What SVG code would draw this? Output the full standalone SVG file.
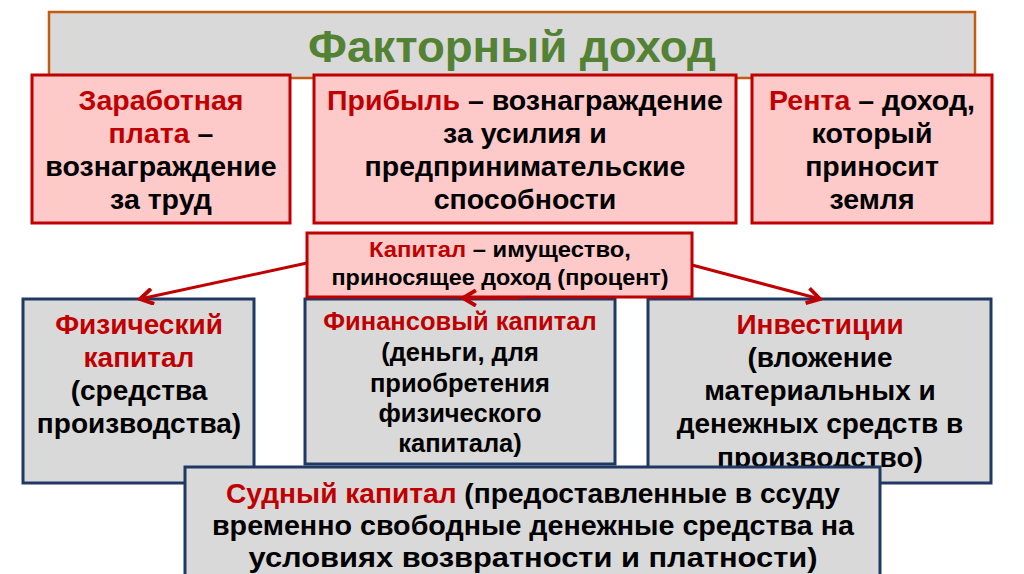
<svg xmlns="http://www.w3.org/2000/svg" width="1024" height="574" viewBox="0 0 1024 574">
<defs>
<style>
text{font-family:"Liberation Sans",Arial,sans-serif;font-weight:bold;text-anchor:middle;fill:#000}
.r{fill:#c00000}
.pink{fill:#fdc9c9;stroke:#c00000;stroke-width:3}
.gray{fill:#d9d9d9;stroke:#1f3864;stroke-width:3}
.t27{font-size:28.5px}
.t25{font-size:28px}
.t21{font-size:25.5px}
.con{stroke:#c00000;stroke-width:3;fill:none}
</style>
<marker id="ah" markerUnits="userSpaceOnUse" markerWidth="18" markerHeight="18" viewBox="0 0 14 14" refX="12" refY="7" orient="auto">
<path d="M2,1 L12,7 L2,13" fill="none" stroke="#c00000" stroke-width="3"/>
</marker>
</defs>
<rect width="1024" height="574" fill="#ffffff"/>
<g id="title">
<rect x="49" y="12" width="926" height="66" fill="#d9d9d9" stroke="#c55a11" stroke-width="2.5"/>
<text x="512" y="62" font-size="45" style="fill:#548235" textLength="408" lengthAdjust="spacingAndGlyphs">Факторный доход</text>
</g>
<g id="wage">
<rect class="pink" x="32" y="75" width="258" height="148"/>
<text class="t27" x="161" y="110"><tspan class="r">Заработная</tspan></text>
<text class="t27" x="161" y="143"><tspan class="r">плата</tspan> –</text>
<text class="t27" x="161" y="176">вознаграждение</text>
<text class="t27" x="161" y="209">за труд</text>
</g>
<g id="profit">
<rect class="pink" x="314" y="75" width="422" height="148"/>
<text class="t27" x="525" y="110"><tspan class="r">Прибыль</tspan> – вознаграждение</text>
<text class="t27" x="525" y="143">за усилия и</text>
<text class="t27" x="525" y="176">предпринимательские</text>
<text class="t27" x="525" y="209">способности</text>
</g>
<g id="rent">
<rect class="pink" x="752" y="75" width="240" height="148"/>
<text class="t27" x="872" y="110"><tspan class="r">Рента</tspan> – доход,</text>
<text class="t27" x="872" y="143">который</text>
<text class="t27" x="872" y="176">приносит</text>
<text class="t27" x="872" y="209">земля</text>
</g>
<g id="physical">
<rect class="gray" x="23" y="299" width="231" height="184"/>
<text class="t25" x="139" y="334"><tspan class="r">Физический</tspan></text>
<text class="t25" x="139" y="367"><tspan class="r">капитал</tspan></text>
<text class="t25" x="139" y="400">(средства</text>
<text class="t25" x="139" y="433">производства)</text>
</g>
<g id="financial">
<rect class="gray" x="305" y="299" width="310" height="165"/>
<text class="t21" x="460" y="330"><tspan class="r">Финансовый капитал</tspan></text>
<text class="t21" x="460" y="361">(деньги, для</text>
<text class="t21" x="460" y="392">приобретения</text>
<text class="t21" x="460" y="422">физического</text>
<text class="t21" x="460" y="452">капитала)</text>
</g>
<g id="investment">
<rect class="gray" x="648" y="299" width="343" height="184"/>
<text class="t25" x="820" y="334"><tspan class="r">Инвестиции</tspan></text>
<text class="t25" x="820" y="367">(вложение</text>
<text class="t25" x="820" y="400">материальных и</text>
<text class="t25" x="820" y="433">денежных средств в</text>
<text class="t25" x="820" y="467">производство)</text>
</g>
<g id="loan">
<rect class="gray" x="185" y="467" width="695" height="115"/>
<text x="533" y="503" font-size="28" textLength="614" lengthAdjust="spacingAndGlyphs"><tspan class="r">Судный капитал</tspan> (предоставленные в ссуду</text>
<text x="533" y="535" font-size="28" textLength="642" lengthAdjust="spacingAndGlyphs">временно свободные денежные средства на</text>
<text x="533" y="567" font-size="28" textLength="569" lengthAdjust="spacingAndGlyphs">условиях возвратности и платности)</text>
</g>
<g id="capital">
<rect class="pink" x="307" y="233" width="385" height="64"/>
<text x="500" y="257" font-size="21.5" textLength="262" lengthAdjust="spacingAndGlyphs"><tspan class="r">Капитал</tspan> – имущество,</text>
<text x="500" y="285" font-size="21.5" textLength="337" lengthAdjust="spacingAndGlyphs">приносящее доход (процент)</text>
</g>
<g id="connectors">
<line class="con" x1="307" y1="263" x2="140" y2="299" marker-end="url(#ah)"/>
<line class="con" x1="520" y1="298" x2="463" y2="298" marker-end="url(#ah)"/>
<line class="con" x1="692" y1="265" x2="820" y2="299" marker-end="url(#ah)"/>
</g>
</svg>
